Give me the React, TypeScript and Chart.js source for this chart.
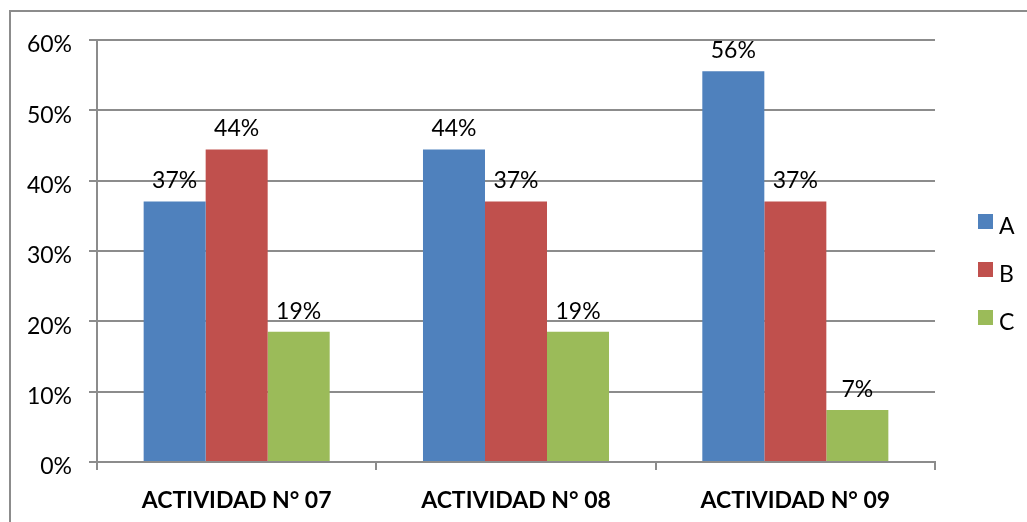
import React, { useEffect, useRef } from "react";
import { Chart, registerables } from "chart.js";

Chart.register(...registerables);

const categories = ["ACTIVIDAD N° 07", "ACTIVIDAD N° 08", "ACTIVIDAD N° 09"];
const seriesNames = ["A", "B", "C"];
const seriesA = [37.04, 44.44, 55.56];
const seriesB = [44.44, 37.04, 37.04];
const seriesC = [18.52, 18.52, 7.41];
const colors = ["#4F81BD", "#C0504D", "#9BBB59"];
const yTicks = [0, 10, 20, 30, 40, 50, 60];

const FONT = "Lato, 'Open Sans', sans-serif";
const GRID = "#8c8c8c";

export default function App() {
  const ref = useRef<HTMLCanvasElement | null>(null);
  useEffect(() => {
    if (!ref.current) return;
    const frame = {
      id: "frame",
      beforeDraw(chart: any) {
        const ctx = chart.ctx;
        ctx.save();
        ctx.fillStyle = "#fff";
        ctx.fillRect(0, 0, chart.width, chart.height);
        ctx.strokeStyle = GRID;
        ctx.lineWidth = 2;
        ctx.strokeRect(10, 11, 1200, 1000);
        ctx.restore();
      },
    };
    const labels = {
      id: "labels",
      afterDatasetsDraw(chart: any) {
        const ctx = chart.ctx;
        ctx.save();
        ctx.font = `23px ${FONT}`;
        ctx.fillStyle = "#000";
        ctx.textAlign = "center";
        ctx.textBaseline = "alphabetic";
        chart.data.datasets.forEach((ds: any, i: number) => {
          const meta = chart.getDatasetMeta(i);
          meta.data.forEach((bar: any, j: number) => {
            ctx.fillText(Math.round(ds.data[j]) + "%", bar.x, bar.y - 13);
          });
        });
        ctx.restore();
      },
    };
    const legend = {
      id: "customLegend",
      afterDraw(chart: any) {
        const ctx = chart.ctx;
        ctx.save();
        ctx.font = `23px ${FONT}`;
        ctx.textBaseline = "middle";
        ctx.textAlign = "left";
        chart.data.datasets.forEach((ds: any, i: number) => {
          const y = 214 + i * 48;
          ctx.fillStyle = ds.backgroundColor;
          ctx.fillRect(978, y, 15, 15);
          ctx.fillStyle = "#000";
          ctx.fillText(ds.label, 999, y + 13);
        });
        ctx.restore();
      },
    };
    const chart = new Chart(ref.current, {
      type: "bar",
      data: {
        labels: categories,
        datasets: [seriesA, seriesB, seriesC].map((d, i) => ({
          label: seriesNames[i],
          data: d,
          backgroundColor: colors[i],
          borderWidth: 0,
          categoryPercentage: 0.666,
          barPercentage: 1.0,
        })),
      },
      options: {
        responsive: false,
        animation: false,
        layout: { padding: { top: 40, right: 92, left: 0, bottom: 0 } },
        plugins: { legend: { display: false }, tooltip: { enabled: false } },
        scales: {
          x: {
            afterFit: (s: any) => { s.height = 60; },
            grid: {
              drawOnChartArea: false,
              drawTicks: true,
              tickLength: 8,
              offset: true,
              color: GRID,
              lineWidth: 2,
            },
            border: { color: GRID, width: 2 },
            ticks: {
              color: "#000",
              font: { family: FONT, size: 23, weight: "bold" },
              padding: 17,
            },
          },
          y: {
            min: 0,
            max: 60,
            afterFit: (s: any) => { s.width = 97; },
            afterBuildTicks: (s: any) => { s.ticks = yTicks.map((v) => ({ value: v })); },
            grid: { color: GRID, lineWidth: 2, tickLength: 8 },
            border: { color: GRID, width: 2 },
            ticks: {
              color: "#000",
              font: { family: FONT, size: 23 },
              padding: 17,
              labelOffset: 5,
              callback: (v: any) => v + "%",
            },
          },
        },
      },
      plugins: [frame, labels, legend],
    });
    return () => chart.destroy();
  }, []);
  return (
    <div style={{ position: "fixed", left: 0, top: 0, width: 1027, height: 522 }}>
      <canvas ref={ref} width={1027} height={522} style={{ display: "block" }} />
    </div>
  );
}
